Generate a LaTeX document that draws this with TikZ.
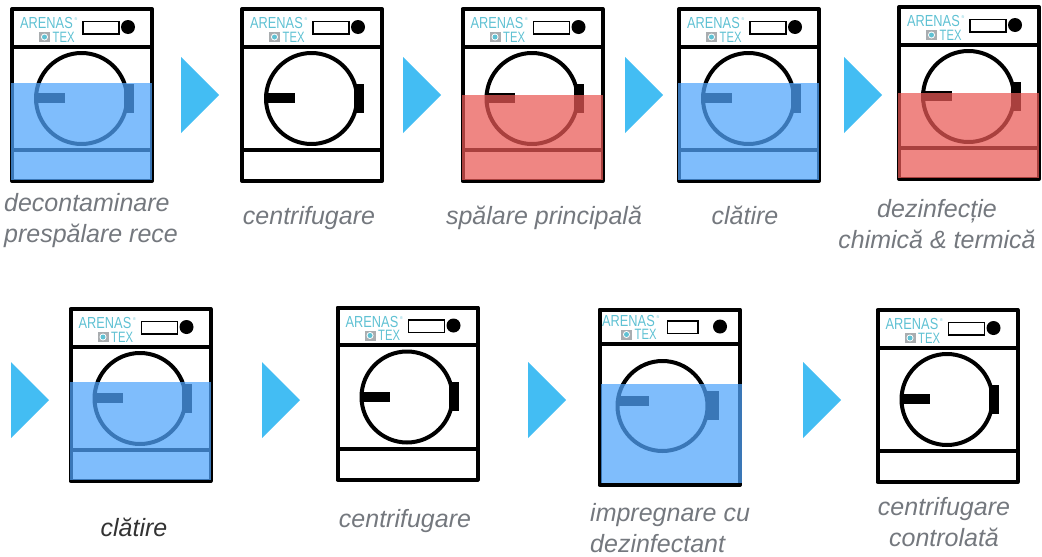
\documentclass[tikz,border=0pt]{standalone}
\usepackage{fontspec}
\setmainfont{Liberation Sans}
\usepackage{tikz}
\usetikzlibrary{positioning}
\definecolor{brandteal}{HTML}{5FC1D3}
\definecolor{brandgrey}{HTML}{A9ADB0}
\definecolor{arrowblue}{HTML}{43BDF3}
\definecolor{labelgrey}{HTML}{74787E}
\definecolor{waterblue}{RGB}{80,164,251}
\definecolor{waterred}{RGB}{233,89,85}
\tikzset{
  washerline/.style={line width=4pt, line join=round},
  waterfill/.style={fill=#1, fill opacity=0.73, draw=none},
  flowarrow/.style={fill=arrowblue, draw=none},
  steplabel/.style={inner sep=0pt, text=labelgrey, font=\fontsize{25}{31}\selectfont\itshape, align=center},
  brandtext/.style={inner sep=0pt, text=brandteal, transform shape},
}
% control panel, origin at the top left corner of the washer
\newcommand{\washerpanel}[7]{
  \node[brandtext, xscale=0.8, font=\fontsize{16}{16}\selectfont, anchor=west] (#1-arenas) at (#2+10,#3+16) {ARENAS};
  \node[brandtext, xscale=0.9, font=\fontsize{4}{4}\selectfont, anchor=west] (#1-reg) at (#2+64.5,#3+12.5) {®};
  \node[brandtext, xscale=0.75, font=\fontsize{15}{15}\selectfont, anchor=west] (#1-tex) at (#2+42.5,#3+30) {TEX};
  \fill[brandgrey] (#2+29,#3+25) rectangle (#2+40,#3+35);
  \fill[white] (#2+34.5,#3+30) circle (3.5);
  \fill[brandteal] (#2+34.5,#3+30) circle (2.5);
  \draw[line width=1.5pt, fill=white] (#2+#4,#3+14.5+#7) rectangle (#2+#5,#3+27+#7);
  \fill (#2+#6,#3+20+#7) circle (7);
}
% drum, handle and latch, around the centre of the drum
\newcommand{\washerdrum}[2]{
  \draw[washerline] (#1,#2) circle (45.5);
  \fill (#1-47,#2-5.5) rectangle (#1-17,#2+4.5);
  \fill (#1+42,#2-15) rectangle (#1+52,#2+14);
}
\newcommand{\washer}[3]{
  \draw[washerline] (#2+2,#3+2) rectangle (#2+142,#3+174);
  \draw[washerline] (#2+2,#3+39.5) -- (#2+142,#3+39.5);
  \draw[washerline] (#2+2,#3+143) -- (#2+142,#3+143);
  \washerdrum{#2+71.5}{#3+91.5}
  \washerpanel{#1}{#2}{#3}{73}{109}{118}{0}
}
\newcommand{\washerwater}[4]{
  \fill[waterfill=#4] (#1+1,#3) rectangle (#1+142,#2+173);
}
\newcommand{\flowstep}[2]{
  \fill[flowarrow] (#1,#2-38) -- (#1+38,#2) -- (#1,#2+38) -- cycle;
}
\begin{document}
\begin{tikzpicture}[x=1pt,y=-1pt]
  \useasboundingbox (0,0) rectangle (1042,557);
  % first row
  \washer{washerA}{10}{7}
  \washerwater{10}{7}{83}{waterblue}
  \flowstep{181}{95}
  \washer{washerB}{240}{7}
  \flowstep{403}{95}
  \washer{washerC}{460.5}{7}
  \washerwater{460.5}{7}{95}{waterred}
  \flowstep{625}{95}
  \washer{washerD}{677}{7}
  \washerwater{677}{7}{83}{waterblue}
  \flowstep{844}{95}
  \washer{washerE}{897}{5}
  \washerwater{897}{5}{93}{waterred}
  % second row
  \flowstep{11}{400}
  \washer{washerF}{68.5}{307}
  \washerwater{68.5}{307}{382}{waterblue}
  \flowstep{262}{400}
  \washer{washerG}{335.5}{305.5}
  \flowstep{528}{400}
  \draw[washerline] (599.5,309.5) rectangle (740,485);
  \draw[washerline] (599.5,344) -- (740,344);
  \draw[washerline] (662.5,406) circle (45);
  \fill (619,396) rectangle (649,406);
  \fill (707,391) rectangle (719,420);
  \washerpanel{washerH}{592}{304.5}{75.5}{106}{128}{2}
  \fill[waterfill=waterblue] (601,384) rectangle (742,483);
  \flowstep{803}{400}
  \washer{washerI}{875.5}{308}
  % labels
  \node[steplabel, align=left, anchor=west] (labelA) at (4,220.5) {decontaminare\\prespălare rece};
  \node[steplabel] (labelB) at (309,218) {centrifugare};
  \node[steplabel] (labelC) at (544,218) {spălare principală};
  \node[steplabel] (labelD) at (745,215) {clătire};
  \node[steplabel] (labelE) at (937,224.5) {dezinfecție\\chimică \& termică};
  \node[steplabel, text=black!80] (labelF) at (134,527) {clătire};
  \node[steplabel] (labelG) at (405,521.5) {centrifugare};
  \node[steplabel, align=left, anchor=west] (labelH) at (590,528.5) {impregnare cu\\dezinfectant};
  \node[steplabel] (labelI) at (944,522.5) {centrifugare\\controlată};
\end{tikzpicture}
\end{document}
